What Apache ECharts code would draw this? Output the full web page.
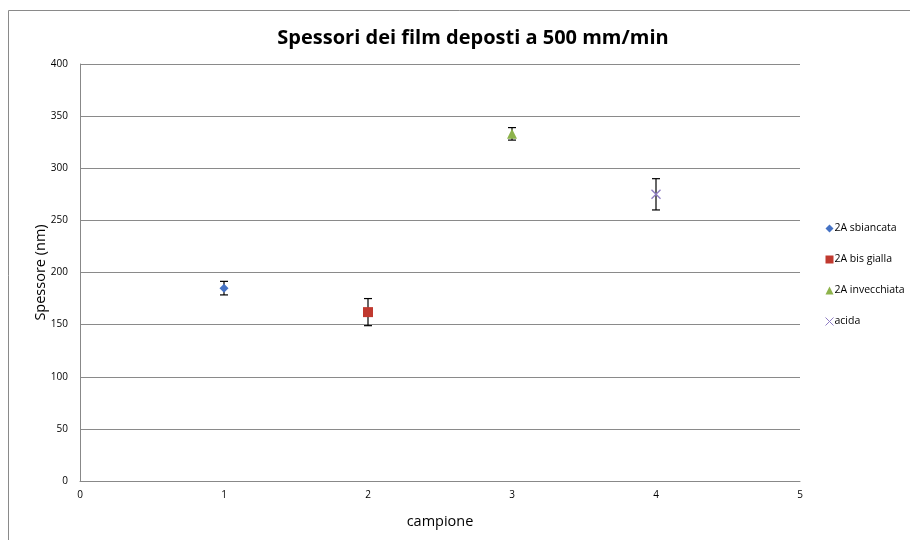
<!DOCTYPE html>
<html>
<head>
<meta charset="utf-8">
<script src="https://cdn.jsdelivr.net/npm/echarts@6/dist/echarts.min.js"></script>
<style>html,body{margin:0;padding:0;background:#fff;}#c{width:910px;height:540px;}</style>
</head>
<body>
<div id="c"></div>
<script>
var seriesNames = ['2A sbiancata', '2A bis gialla', '2A invecchiata', 'acida'];
var xValues = [1, 2, 3, 4];
var yValues = [185, 162, 333, 275];
var errValues = [6.5, 13, 6, 15];
var colors = ['#4572C4', '#C0392F', '#8DB34B', '#8E7CC3'];
var crossPath = 'path://M0,0L10,10M10,0L0,10';
var symbols = ['diamond', 'rect', 'triangle', crossPath];
var symbolSizes = [9, 10, 10, 9];

var chart = echarts.init(document.getElementById('c'), null, {renderer: 'canvas'});
var font = 'Open Sans, DejaVu Sans, sans-serif';

var series = [];
seriesNames.forEach(function (name, i) {
  var isCross = i === 3;
  series.push({
    name: name,
    type: 'scatter',
    data: [[xValues[i], yValues[i]]],
    symbol: symbols[i],
    symbolSize: symbolSizes[i],
    itemStyle: isCross ? {color: 'rgba(0,0,0,0)', borderColor: colors[i], borderWidth: 1.3, opacity: 1} : {color: colors[i], opacity: 1},
    z: 3
  });
  series.push({
    name: name,
    type: 'custom',
    data: [[xValues[i], yValues[i] - errValues[i], yValues[i] + errValues[i]]],
    renderItem: function (params, api) {
      var lo = api.coord([api.value(0), api.value(1)]);
      var hi = api.coord([api.value(0), api.value(2)]);
      var w = 4;
      var st = {stroke: '#000', lineWidth: 1.2};
      return {type: 'group', children: [
        {type: 'line', shape: {x1: lo[0], y1: lo[1], x2: hi[0], y2: hi[1]}, style: st},
        {type: 'line', shape: {x1: lo[0] - w, y1: lo[1], x2: lo[0] + w, y2: lo[1]}, style: st},
        {type: 'line', shape: {x1: hi[0] - w, y1: hi[1], x2: hi[0] + w, y2: hi[1]}, style: st}
      ]};
    },
    z: 2,
    silent: true
  });
});

chart.setOption({
  backgroundColor: '#fff',
  animation: false,
  title: {
    text: 'Spessori dei film deposti a 500 mm/min',
    left: 468, top: 23, textAlign: 'center',
    textStyle: {fontFamily: font, fontSize: 20, fontWeight: 'bold', color: '#000'}
  },
  graphic: [{
    type: 'rect', shape: {x: 8.5, y: 10.5, width: 960, height: 600},
    style: {fill: 'none', stroke: '#8a8a8a', lineWidth: 1}, silent: true, z: -10
  }],
  legend: {
    orient: 'vertical', left: 820, top: 218, itemGap: 20,
    itemWidth: 8, itemHeight: 8,
    data: seriesNames.map(function (n, i) {
      return i === 3 ? {name: n, icon: crossPath, itemStyle: {color: 'rgba(0,0,0,0)', borderColor: colors[i], borderWidth: 1}} : {name: n, icon: symbols[i], itemStyle: {color: colors[i]}};
    }),
    textStyle: {fontFamily: font, fontSize: 10.5, color: '#000', padding: [0, 0, 0, -4]}
  },
  grid: {left: 80, right: 110, top: 64, bottom: 59},
  xAxis: {
    type: 'value', min: 0, max: 5, interval: 1,
    name: 'campione', nameLocation: 'middle', nameGap: 33, nameMoveOverlap: false,
    nameTextStyle: {fontFamily: font, fontSize: 14.5, color: '#000'},
    axisLine: {lineStyle: {color: '#888'}},
    axisTick: {show: false},
    axisLabel: {fontFamily: font, fontSize: 10, color: '#000', margin: 9},
    splitLine: {show: false}
  },
  yAxis: {
    type: 'value', min: 0, max: 400, interval: 50,
    name: 'Spessore (nm)', nameLocation: 'middle', nameGap: 32, nameMoveOverlap: false,
    nameTextStyle: {fontFamily: font, fontSize: 14.5, color: '#000'},
    axisLine: {show: true, lineStyle: {color: '#888'}},
    axisTick: {show: false},
    axisLabel: {fontFamily: font, fontSize: 10, color: '#000', margin: 12},
    splitLine: {lineStyle: {color: '#8a8a8a', width: 1}}
  },
  series: series
});
</script>
</body>
</html>
